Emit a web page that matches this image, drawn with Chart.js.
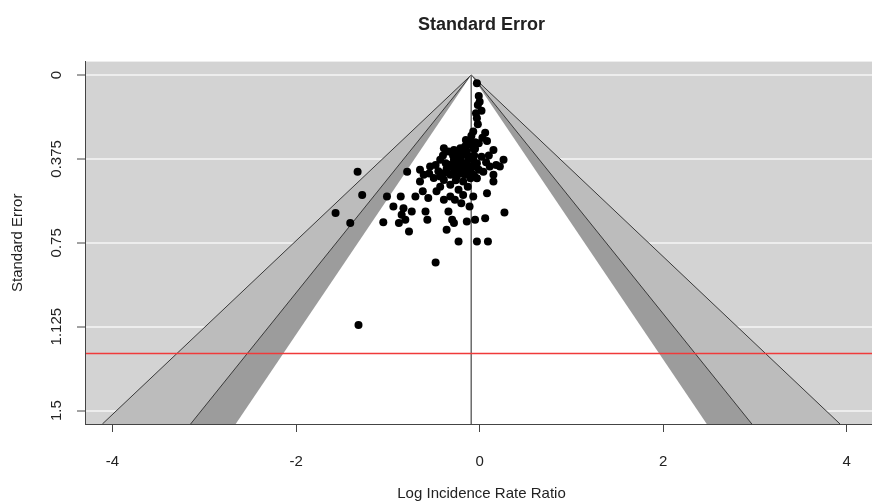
<!DOCTYPE html>
<html>
<head>
<meta charset="utf-8">
<script src="https://cdn.jsdelivr.net/npm/chart.js@4.4.1/dist/chart.umd.min.js"></script>
<style>
html, body { margin: 0; padding: 0; overflow: hidden; background: #fff; }
#wrap { width: 882px; height: 504px; }
</style>
</head>
<body>
<div id="wrap"><canvas id="funnel" width="882" height="504"></canvas></div>
<script>
// study estimates (log IRR) and their standard errors
const logIrr = [
  -0.03, -0.01, 0.00, -0.02, -0.04, -0.03, -0.07, -0.09, 0.06, 0.08,
  -0.10, -0.01, -0.16, -0.21, -0.39, -0.34, -0.25, -0.18, -0.10, 0.15,
  0.26, 0.18, 0.11, 0.22, -0.28, -0.43, -0.48, -0.54, -0.65, -0.61,
  -0.79, -0.20, -0.14, -0.09, -0.01, 0.04, -0.39, -0.32, -0.25, -0.16,
  -0.10, -0.03, 0.15, 0.15, -0.39, -0.65, -0.32, -0.43, -0.23, -0.18,
  -0.32, -0.39, -0.27, -0.20, -0.07, 0.08, -0.56, -0.70, -0.86, -0.94,
  -1.01, -1.33, -1.28, -1.57, -1.41, -0.83, -0.74, -0.85, -0.81, -0.88,
  -0.77, -1.05, -0.59, -0.57, -0.34, -0.30, -0.28, -0.36, -0.14, -0.05,
  0.06, 0.27, -0.23, -0.03, 0.09, -0.11, -0.48, -1.32,
  -0.28, -0.14, -0.07, -0.23, -0.07, -0.34, -0.21, -0.27, -0.03, -0.14,
  -0.43, -0.18, 0.02, -0.25, -0.09, -0.37,
  -0.12, -0.05, -0.19, -0.29, -0.12, -0.06, -0.22, -0.31, -0.17, -0.04,
  -0.12, -0.20, -0.28, -0.06, 0.07, 0.10, -0.36, -0.45, -0.50, -0.26,
  -0.13, -0.05, 0.03, -0.15, -0.40, -0.55, -0.62, -0.47, -0.02, 0.02
];
const stdErr = [
  0.037, 0.094, 0.119, 0.134, 0.171, 0.193, 0.253, 0.272, 0.258, 0.295,
  0.298, 0.305, 0.320, 0.327, 0.327, 0.342, 0.350, 0.357, 0.365, 0.335,
  0.379, 0.402, 0.409, 0.409, 0.379, 0.379, 0.402, 0.409, 0.424, 0.446,
  0.432, 0.387, 0.394, 0.409, 0.424, 0.432, 0.439, 0.446, 0.454, 0.446,
  0.461, 0.461, 0.446, 0.476, 0.469, 0.476, 0.491, 0.499, 0.513, 0.536,
  0.543, 0.558, 0.558, 0.573, 0.543, 0.528, 0.550, 0.543, 0.543, 0.588,
  0.543, 0.432, 0.536, 0.617, 0.662, 0.595, 0.610, 0.625, 0.647, 0.662,
  0.700, 0.658, 0.610, 0.647, 0.610, 0.647, 0.662, 0.692, 0.655, 0.647,
  0.640, 0.615, 0.744, 0.744, 0.744, 0.588, 0.838, 1.117,
  0.335, 0.342, 0.327, 0.379, 0.379, 0.409, 0.417, 0.424, 0.394, 0.424,
  0.454, 0.476, 0.365, 0.409, 0.439, 0.394,
  0.310, 0.330, 0.340, 0.360, 0.370, 0.360, 0.390, 0.400, 0.410, 0.410,
  0.430, 0.440, 0.430, 0.450, 0.390, 0.360, 0.420, 0.430, 0.460, 0.470,
  0.500, 0.300, 0.280, 0.290, 0.360, 0.440, 0.520, 0.520, 0.220, 0.160
];

const xTicks = [-4, -2, 0, 2, 4];
const yTicks = [0, 0.375, 0.75, 1.125, 1.5];
const xRange = [-4.30, 4.34];
const yRange = [-0.06, 1.56];

const estimate = -0.092;              // pooled log IRR (funnel centre)
const zLevels = [2.576, 1.96, 1.645]; // 99%, 95%, 90% contours
const refSE = 1.245;                  // red reference line

const FONT = '"Liberation Sans", Arial, Helvetica, sans-serif';
const INK = '#222';
const bandFills = ['#bcbcbc', '#9c9c9c', '#ffffff'];
const bandLines = ['#3a3a3a', '#3a3a3a', 'rgba(0,0,0,0)'];

// light gray panel behind everything
const plotBg = {
    id: 'plotBg',
    beforeDraw(chart) {
        const { ctx, chartArea: a } = chart;
        ctx.save();
        ctx.fillStyle = '#d3d3d3';
        ctx.fillRect(a.left, a.top, a.right - a.left, a.bottom - a.top);
        ctx.restore();
    }
};

const seMax = yRange[1];
const funnelSets = zLevels.map((z, i) => ({
    type: 'line',
    data: [
        { x: estimate - z * seMax, y: seMax },
        { x: estimate, y: 0 },
        { x: estimate + z * seMax, y: seMax }
    ],
    fill: 'shape',
    backgroundColor: bandFills[i],
    borderColor: bandLines[i],
    borderWidth: 1,
    pointRadius: 0,
    tension: 0,
    order: 10 - i
}));

new Chart(document.getElementById('funnel'), {
    type: 'scatter',
    data: {
        datasets: [
            {
                data: logIrr.map((v, i) => ({ x: v, y: stdErr[i] })),
                backgroundColor: '#000',
                borderWidth: 0,
                pointRadius: 4,
                order: 0
            },
            {
                type: 'line',
                data: [{ x: xRange[0], y: refSE }, { x: xRange[1], y: refSE }],
                borderColor: '#f03a3a',
                borderWidth: 1.6,
                pointRadius: 0,
                fill: false,
                order: 1
            },
            {
                type: 'line',
                data: [{ x: estimate, y: 0 }, { x: estimate, y: seMax }],
                borderColor: '#6a6a6a',
                borderWidth: 1.5,
                pointRadius: 0,
                fill: false,
                order: 2
            },
            ...funnelSets
        ]
    },
    options: {
        responsive: false,
        devicePixelRatio: 1,
        animation: false,
        events: [],
        layout: { padding: 0 },
        plugins: {
            legend: { display: false },
            tooltip: { enabled: false },
            title: {
                display: true,
                text: 'Standard Error',
                fullSize: false,
                color: INK,
                font: { family: FONT, size: 18, weight: 'bold', lineHeight: 1.2 },
                padding: { top: 14, bottom: 26 }
            }
        },
        scales: {
            x: {
                type: 'linear',
                min: xRange[0],
                max: xRange[1],
                afterBuildTicks: s => { s.ticks = xTicks.map(v => ({ value: v })); },
                afterFit: s => { s.height = 80; },
                ticks: {
                    color: INK,
                    font: { family: FONT, size: 15 },
                    padding: 21,
                    maxRotation: 0,
                    autoSkip: false,
                    callback: v => String(v)
                },
                grid: { drawOnChartArea: false, drawTicks: true, tickLength: 8, tickColor: '#444', tickWidth: 1 },
                border: { display: true, color: '#444', width: 1, z: 1 },
                title: {
                    display: true,
                    text: 'Log Incidence Rate Ratio',
                    color: INK,
                    font: { family: FONT, size: 15, lineHeight: 1.2 },
                    padding: { top: 0, bottom: 1 }
                }
            },
            y: {
                type: 'linear',
                reverse: true,
                min: yRange[0],
                max: yRange[1],
                afterBuildTicks: s => { s.ticks = yTicks.map(v => ({ value: v })); },
                afterFit: s => { s.width = 85; },
                ticks: {
                    color: INK,
                    font: { family: FONT, size: 15 },
                    padding: 1,
                    minRotation: 90,
                    maxRotation: 90,
                    crossAlign: 'center',
                    autoSkip: false,
                    callback: v => String(v)
                },
                grid: { color: '#ededed', lineWidth: 2, drawTicks: true, tickLength: 8, tickColor: '#444', tickWidth: 1 },
                border: { display: true, color: '#444', width: 1, z: 1 },
                title: {
                    display: true,
                    text: 'Standard Error',
                    color: INK,
                    font: { family: FONT, size: 15, lineHeight: 1.2 },
                    padding: { top: 9, bottom: 0 }
                }
            }
        }
    },
    plugins: [plotBg]
});
</script>
</body>
</html>
